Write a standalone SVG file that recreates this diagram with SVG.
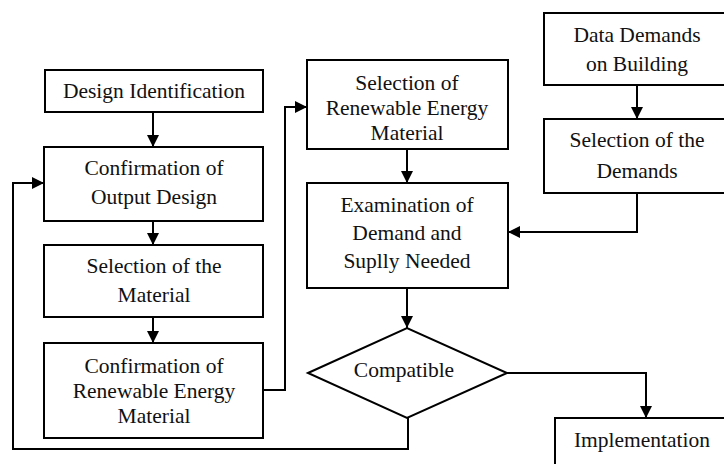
<svg xmlns="http://www.w3.org/2000/svg" width="724" height="464" viewBox="0 0 724 464">
<defs>
<marker id="ah" markerUnits="userSpaceOnUse" markerWidth="12" markerHeight="12" refX="12" refY="6" orient="auto">
<path d="M0,0 L12,6 L0,12 z" fill="#000"/>
</marker>
</defs>
<rect width="724" height="464" fill="#fff"/>
<g id="connectors" fill="none" stroke="#000" stroke-width="2">
<path d="M153,112 V147" marker-end="url(#ah)"/>
<path d="M153,221 V245" marker-end="url(#ah)"/>
<path d="M153,317 V343" marker-end="url(#ah)"/>
<path d="M263,390 H285 V107 H307" marker-end="url(#ah)"/>
<path d="M407,149 V183" marker-end="url(#ah)"/>
<path d="M637,85 V119" marker-end="url(#ah)"/>
<path d="M637,193 V232 H508" marker-end="url(#ah)"/>
<path d="M407,288 V328" marker-end="url(#ah)"/>
<path d="M507,373 H646 V418" marker-end="url(#ah)"/>
<path d="M408,418 V449 H13 V183 H44" marker-end="url(#ah)"/>
</g>
<g id="design-identification">
<rect x="45" y="70" width="218" height="42" fill="#fff" stroke="#000" stroke-width="2"/>
<text font-family="Liberation Serif" font-size="21.5" fill="#111" text-anchor="middle" x="154" y="98">Design Identification</text>
</g>
<g id="confirmation-output">
<rect x="44" y="147" width="219" height="74" fill="#fff" stroke="#000" stroke-width="2"/>
<text font-family="Liberation Serif" font-size="21.5" fill="#111" text-anchor="middle" x="154" y="175">Confirmation of</text>
<text font-family="Liberation Serif" font-size="21.5" fill="#111" text-anchor="middle" x="154" y="204">Output Design</text>
</g>
<g id="selection-material">
<rect x="44" y="245" width="219" height="72" fill="#fff" stroke="#000" stroke-width="2"/>
<text font-family="Liberation Serif" font-size="21.5" fill="#111" text-anchor="middle" x="154" y="273">Selection of the</text>
<text font-family="Liberation Serif" font-size="21.5" fill="#111" text-anchor="middle" x="154" y="302">Material</text>
</g>
<g id="confirmation-renewable">
<rect x="44" y="343" width="219" height="95" fill="#fff" stroke="#000" stroke-width="2"/>
<text font-family="Liberation Serif" font-size="21.5" fill="#111" text-anchor="middle" x="154" y="373">Confirmation of</text>
<text font-family="Liberation Serif" font-size="21.5" fill="#111" text-anchor="middle" x="154" y="398">Renewable Energy</text>
<text font-family="Liberation Serif" font-size="21.5" fill="#111" text-anchor="middle" x="154" y="423">Material</text>
</g>
<g id="selection-renewable">
<rect x="307" y="60" width="201" height="89" fill="#fff" stroke="#000" stroke-width="2"/>
<text font-family="Liberation Serif" font-size="21.5" fill="#111" text-anchor="middle" x="407" y="90">Selection of</text>
<text font-family="Liberation Serif" font-size="21.5" fill="#111" text-anchor="middle" x="407" y="115">Renewable Energy</text>
<text font-family="Liberation Serif" font-size="21.5" fill="#111" text-anchor="middle" x="407" y="140">Material</text>
</g>
<g id="examination">
<rect x="307" y="183" width="201" height="105" fill="#fff" stroke="#000" stroke-width="2"/>
<text font-family="Liberation Serif" font-size="21.5" fill="#111" text-anchor="middle" x="407" y="212">Examination of</text>
<text font-family="Liberation Serif" font-size="21.5" fill="#111" text-anchor="middle" x="407" y="240">Demand and</text>
<text font-family="Liberation Serif" font-size="21.5" fill="#111" text-anchor="middle" x="407" y="268">Suplly Needed</text>
</g>
<g id="data-demands">
<rect x="544" y="13" width="190" height="72" fill="#fff" stroke="#000" stroke-width="2"/>
<text font-family="Liberation Serif" font-size="21.5" fill="#111" text-anchor="middle" x="637" y="42">Data Demands</text>
<text font-family="Liberation Serif" font-size="21.5" fill="#111" text-anchor="middle" x="637" y="71">on Building</text>
</g>
<g id="selection-demands">
<rect x="544" y="119" width="190" height="74" fill="#fff" stroke="#000" stroke-width="2"/>
<text font-family="Liberation Serif" font-size="21.5" fill="#111" text-anchor="middle" x="637" y="147">Selection of the</text>
<text font-family="Liberation Serif" font-size="21.5" fill="#111" text-anchor="middle" x="637" y="178">Demands</text>
</g>
<g id="compatible">
<polygon points="308,373 407,328 507,373 407,418" fill="#fff" stroke="#000" stroke-width="2"/>
<text font-family="Liberation Serif" font-size="21.5" fill="#111" text-anchor="middle" x="404" y="377">Compatible</text>
</g>
<g id="implementation">
<rect x="555" y="418" width="190" height="60" fill="#fff" stroke="#000" stroke-width="2"/>
<text font-family="Liberation Serif" font-size="21.5" fill="#111" text-anchor="middle" x="642" y="447">Implementation</text>
</g>
</svg>
